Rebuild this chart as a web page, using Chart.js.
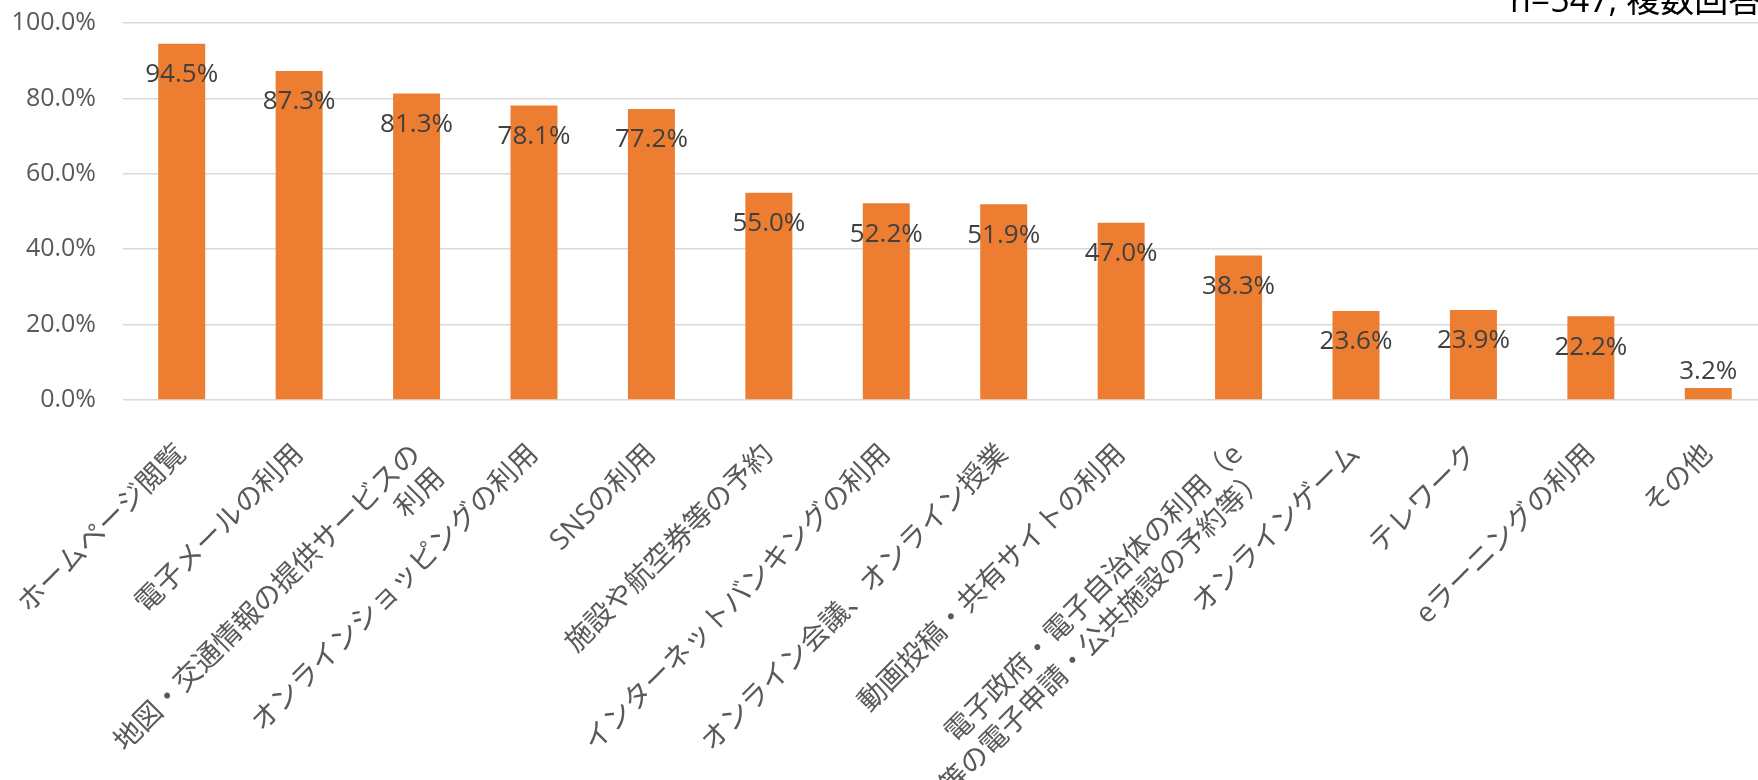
<!DOCTYPE html>
<html lang="ja">
<head>
<meta charset="utf-8">
<script src="https://cdn.jsdelivr.net/npm/chart.js@4.4.1/dist/chart.umd.min.js"></script>
<style>
  html, body { margin: 0; padding: 0; background: #fff; overflow: hidden; }
  #wrap { position: relative; width: 1770px; height: 780px; }
</style>
</head>
<body>
<div id="wrap"><canvas id="myChart"></canvas></div>
<script>
const categories = [
  "ホームページ閲覧",
  "電子メールの利用",
  ["地図・交通情報の提供サービスの", "利用"],
  "オンラインショッピングの利用",
  "SNSの利用",
  "施設や航空券等の予約",
  "インターネットバンキングの利用",
  "オンライン会議、オンライン授業",
  "動画投稿・共有サイトの利用",
  ["電子政府・電子自治体の利用（e", "-Tax等の電子申請・公共施設の予約等）"],
  "オンラインゲーム",
  "テレワーク",
  "eラーニングの利用",
  "その他"
];
const values = [94.5, 87.3, 81.3, 78.1, 77.2, 55.0, 52.2, 51.9, 47.0, 38.3, 23.6, 23.9, 22.2, 3.2];
const yMin = 0;
const yMax = 100;
const yStep = 20;
const noteText = "n=547, 複数回答";

const fontStack = "'Open Sans', 'Noto Sans CJK JP', sans-serif";

// value labels on top of bars
const barLabels = {
  id: "barLabels",
  afterDatasetsDraw(chart) {
    const c = chart.ctx;
    const meta = chart.getDatasetMeta(0);
    c.save();
    c.font = "26px " + fontStack;
    c.fillStyle = "#404040";
    c.textAlign = "center";
    c.textBaseline = "middle";
    meta.data.forEach((bar, i) => {
      const h = bar.base - bar.y;
      const y = h > 40 ? bar.y + 31 : bar.y - 16;
      c.fillText(values[i].toFixed(1) + "%", bar.x, y);
    });
    c.restore();
  }
};

// sample note, top right
const note = {
  id: "note",
  afterDraw(chart) {
    const c = chart.ctx;
    c.save();
    c.font = "34px " + fontStack;
    c.fillStyle = "#000";
    c.textAlign = "left";
    c.textBaseline = "alphabetic";
    c.fillText(noteText, 1510, 12);
    c.restore();
  }
};

const ctx = document.getElementById("myChart");

new Chart(ctx, {
  type: "bar",
  data: {
    labels: categories,
    datasets: [
      {
        data: values,
        backgroundColor: "#ED7D31",
        borderWidth: 0,
        categoryPercentage: 1,
        barPercentage: 0.4,
      },
    ],
  },
  options: {
    responsive: true,
    maintainAspectRatio: false,
    animation: false,
    layout: { padding: { top: 23, right: 3, left: 0, bottom: 0 } },
    plugins: {
      legend: { display: false },
      tooltip: { enabled: false },
    },
    scales: {
      x: {
        grid: { display: false },
        border: { display: false },
        ticks: {
          autoSkip: false,
          minRotation: 45,
          maxRotation: 45,
          padding: 30,
          color: "#595959",
          font: { family: fontStack, size: 28 },
        },
        afterFit(scale) {
          scale.height = 380;
          scale.paddingLeft = 0;
          scale.paddingRight = 0;
        },
      },
      y: {
        min: yMin,
        max: yMax,
        grid: { color: "#D9D9D9", lineWidth: 1.5, drawTicks: false },
        border: { display: false },
        ticks: {
          stepSize: yStep,
          padding: 27,
          color: "#595959",
          font: { family: fontStack, size: 25 },
          callback: (v) => v.toFixed(1) + "%",
        },
        afterFit(scale) {
          scale.width = 123;
          scale.paddingTop = 0;
          scale.paddingBottom = 0;
        },
      },
    },
  },
  plugins: [barLabels, note],
});
</script>
</body>
</html>
